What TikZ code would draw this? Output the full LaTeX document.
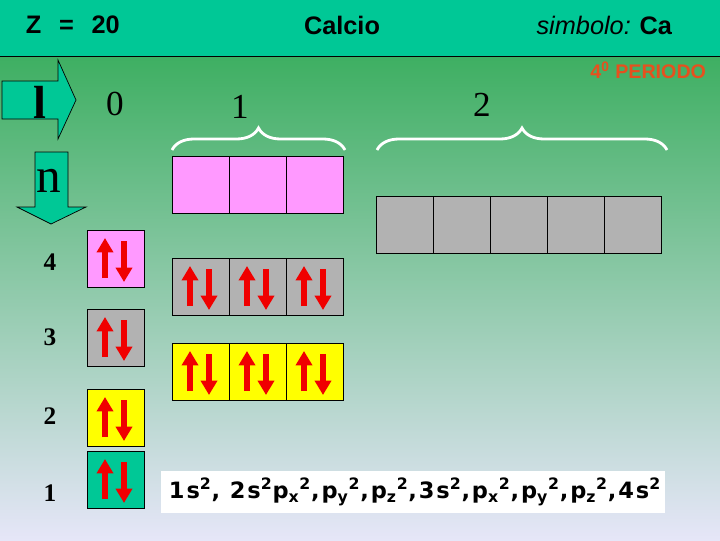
\documentclass[tikz,border=0pt]{standalone}
\usepackage{fontspec}
\setmainfont{Liberation Serif}
\newfontfamily\hdrfont{Liberation Sans}
\newfontfamily\conffont[LetterSpace=8.5]{DejaVu Sans}
\usepackage{xcolor}
\usepackage{tikz}
\usetikzlibrary{arrows.meta,decorations.pathreplacing}

\definecolor{hdrteal}{RGB}{0,200,150}
\definecolor{bgtop}{RGB}{62,175,98}
\definecolor{bgmid}{RGB}{165,208,185}
\definecolor{bgbot}{RGB}{230,230,248}
\definecolor{orbpink}{RGB}{255,153,255}
\definecolor{orbgray}{RGB}{178,178,178}
\definecolor{orbyellow}{RGB}{255,255,0}
\definecolor{spinred}{RGB}{240,0,0}
\definecolor{perorange}{RGB}{230,80,30}

\begin{document}
\begin{tikzpicture}[x=0.025cm, y=-0.025cm,
  cell/.style={draw=black, line width=0.7pt},
  spinup/.style={spinred, line width=0.165cm, -{Triangle[width=0.4cm,length=0.36cm]}},
  spindown/.style={spinred, line width=0.165cm, -{Triangle[width=0.4cm,length=0.36cm]}},
  blockarrow/.style={fill=hdrteal, draw=black, line width=0.5pt},
  bracewhite/.style={white, line width=2pt, decorate, decoration={brace, amplitude=0.55cm}},
  qnum/.style={font=\fontsize{25}{25}\selectfont},
  shell/.style={font=\bfseries\fontsize{18}{18}\selectfont}]
  % coordinates in pixels of the 720x540 slide, y going down
  \useasboundingbox (0,0) rectangle (720,540);
  % background: header band and gradient
  \shade[top color=bgtop, middle color=bgmid, bottom color=bgbot] (0,56) rectangle (720,540);
  \fill[hdrteal] (0,0) rectangle (720,56);
  \draw[line width=0.7pt] (0,56) -- (720,56);
  % header texts
  \node[anchor=west, font=\hdrfont\bfseries\fontsize{18}{18}\selectfont] (zlab) at (21,25) {Z\hspace{0.7em}=\hspace{0.7em}20};
  \node[font=\hdrfont\bfseries\fontsize{18}{18}\selectfont] (elname) at (342,25) {Calcio};
  \node[anchor=east, font=\hdrfont\fontsize{18}{18}\selectfont] (symb) at (677,25) {\itshape simbolo:\hspace{0.35em}\upshape\bfseries Ca};
  \node[anchor=east, text=perorange, font=\hdrfont\bfseries\fontsize{14}{14}\selectfont] (period) at (711,70) {4\textsuperscript{0} PERIODO};
  % block arrows for l and n
  \filldraw[blockarrow] (2,81) -- (58,81) -- (58,60) -- (76,100) -- (58,139) -- (58,119) -- (2,119) -- cycle;
  \filldraw[blockarrow] (35,152) -- (68,152) -- (68,207) -- (86,207) -- (51,224) -- (17,207) -- (35,207) -- cycle;
  \node[font=\bfseries\fontsize{33}{33}\selectfont] (llab) at (40,102) {l};
  \node[font=\fontsize{35}{35}\selectfont] (nlab) at (49,181) {n};
  % values of l
  \node[qnum] (lzero) at (115,104) {0};
  \node[qnum] (lone) at (240,107) {1};
  \node[qnum] (ltwo) at (482,105) {2};
  % braces over the p and d rows
  \draw[bracewhite] (172,150) -- (345,150);
  \draw[bracewhite] (377,150) -- (667,150);
  % values of n
  \node[shell] (nfour) at (50,262) {4};
  \node[shell] (nthree) at (50,337) {3};
  \node[shell] (ntwo) at (50,416) {2};
  \node[shell] (none) at (50,493) {1};
  % orbital cells: x/y of top left corner and fill
  \foreach \x/\y/\c in {87/230/orbpink, 87/309/orbgray, 87/389/orbyellow, 87/451/hdrteal,
      172/156/orbpink, 229/156/orbpink, 286/156/orbpink,
      172/258/orbgray, 229/258/orbgray, 286/258/orbgray,
      172/343/orbyellow, 229/343/orbyellow, 286/343/orbyellow,
      376/196/orbgray, 433/196/orbgray, 490/196/orbgray, 547/196/orbgray, 604/196/orbgray} {
    \filldraw[cell, fill=\c] (\x,\y) rectangle +(57,57);
  }
  % paired electrons
  \foreach \x/\y in {87/230, 87/309, 87/389, 87/451,
      172/258, 229/258, 286/258, 172/343, 229/343, 286/343} {
    \draw[spinup] (\x+18,\y+48) -- (\x+18,\y+8);
    \draw[spindown] (\x+37,\y+11) -- (\x+37,\y+52);
  }
  % electron configuration
  \fill[white] (161,471) rectangle (665,513);
  \node[anchor=west, font=\conffont\bfseries\fontsize{16}{16}\selectfont] (config) at (164,492)
    {1s\textsuperscript{2}, 2s\textsuperscript{2}p\textsubscript{x}\textsuperscript{2},p\textsubscript{y}\textsuperscript{2},p\textsubscript{z}\textsuperscript{2},3s\textsuperscript{2},p\textsubscript{x}\textsuperscript{2},p\textsubscript{y}\textsuperscript{2},p\textsubscript{z}\textsuperscript{2},4s\textsuperscript{2}};
\end{tikzpicture}
\end{document}
